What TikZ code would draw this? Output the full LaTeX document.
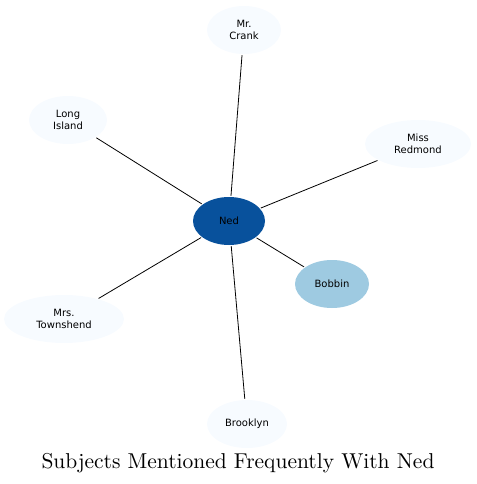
\documentclass[tikz,border=0pt]{standalone}
\usepackage{fontspec}
\newfontfamily\nodefont{DejaVu Sans}
\newfontfamily\titlefont{lmroman10-regular}[Extension=.otf]
\usetikzlibrary{shapes.geometric}
\definecolor{dark}{HTML}{08519C}
\definecolor{mid}{HTML}{9ECAE1}
\definecolor{pale}{HTML}{F7FBFF}
\tikzset{
  ent/.style={ellipse, inner sep=0pt, font=\nodefont\fontsize{10}{11.5}\selectfont, align=center, draw=none},
  link/.style={draw=black, line width=0.8pt, shorten <=1pt, shorten >=1pt}
}
\begin{document}
\begin{tikzpicture}[x=1pt,y=-1pt]
\useasboundingbox (0,0) rectangle (476,484);
\node[ent, fill=dark, minimum width=72pt, minimum height=48pt] (ned) at (229,221) {Ned};
\node[ent, fill=mid, minimum width=74pt, minimum height=48pt] (bobbin) at (332,284) {Bobbin};
\node[ent, fill=pale, minimum width=74pt, minimum height=48pt] (crank) at (244,30) {Mr.\\Crank};
\node[ent, fill=pale, minimum width=78pt, minimum height=48pt] (long) at (68,120) {Long\\Island};
\node[ent, fill=pale, minimum width=106pt, minimum height=48pt] (miss) at (418,144) {Miss\\Redmond};
\node[ent, fill=pale, minimum width=120pt, minimum height=48pt] (mrs) at (64,319) {Mrs.\\Townshend};
\node[ent, fill=pale, minimum width=80pt, minimum height=48pt] (brook) at (247,424) {Brooklyn};
\draw[link] (ned) -- (crank);
\draw[link] (ned) -- (long);
\draw[link] (ned) -- (miss);
\draw[link] (ned) -- (bobbin);
\draw[link] (ned) -- (mrs);
\draw[link] (ned) -- (brook);
\node[font=\titlefont\fontsize{21.5}{25}\selectfont, inner sep=0pt] (title) at (238,463) {Subjects Mentioned Frequently With Ned};
\end{tikzpicture}
\end{document}
